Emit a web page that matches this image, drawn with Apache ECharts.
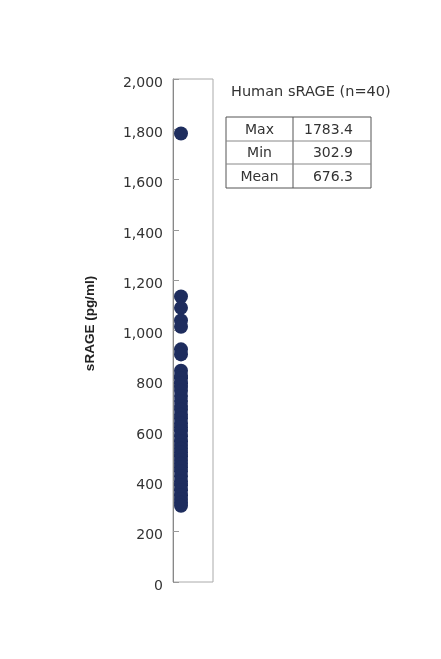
<!DOCTYPE html>
<html>
<head>
<meta charset="utf-8">
<script src="https://cdn.jsdelivr.net/npm/echarts@6/dist/echarts.min.js"></script>
<style>html,body{margin:0;padding:0;background:#fff}#c{width:441px;height:659px}</style>
</head>
<body>
<div id="c"></div>
<script>
// Data
const sragValues = [1783.4, 1135, 1090, 1040, 1015, 925, 905, 840, 820,
  810, 790, 775, 760, 740, 720, 700, 685, 665, 650, 630, 615, 600, 580, 560,
  545, 530, 515, 500, 485, 470, 455, 440, 420, 400, 385, 365, 345, 330, 315, 302.9];
const yTicks = [0, 200, 400, 600, 800, 1000, 1200, 1400, 1600, 1800, 2000];
const tableTitle = 'Human sRAGE (n=40)';
const statLabels = ['Max', 'Min', 'Mean'];
const statValues = ['1783.4', '302.9', '676.3'];
const yAxisName = 'sRAGE (pg/ml)';
const dotX = 0.2;

const chart = echarts.init(document.getElementById('c'));
const FONT = '"DejaVu Sans", "Liberation Sans", sans-serif';
const NFONT = '"Liberation Sans", Arial, sans-serif';

// Table graphic
const tL = 226, tR = 371, tDiv = 293, rowTops = [117, 141, 164, 188];
const g = [];
g.push({type:'text', left: 231, top: 85, style:{text: tableTitle, font: '14.5px ' + FONT, fill:'#333'}});
g.push({type:'rect', shape:{x:tL, y:rowTops[0], width:tR-tL, height:rowTops[3]-rowTops[0]}, style:{fill:'none', stroke:'#555', lineWidth:1}});
g.push({type:'line', shape:{x1:tDiv, y1:rowTops[0], x2:tDiv, y2:rowTops[3]}, style:{stroke:'#555', lineWidth:1}});
for (let i = 1; i < 3; i++) {
  g.push({type:'line', shape:{x1:tL, y1:rowTops[i], x2:tR, y2:rowTops[i]}, style:{stroke:'#888', lineWidth:1}});
}
statLabels.forEach((lab, i) => {
  const cy = (rowTops[i] + rowTops[i+1]) / 2 + 1;
  g.push({type:'text', x:(tL+tDiv)/2, y:cy, style:{text:lab, font:'14px ' + FONT, fill:'#333', align:'center', verticalAlign:'middle'}});
  g.push({type:'text', x:353, y:cy, style:{text:statValues[i], font:'14px ' + FONT, fill:'#333', align:'right', verticalAlign:'middle'}});
});

chart.setOption({
  animation: false,
  grid: {left: 173, right: 228, top: 79, bottom: 77, show: true, borderColor: '#aaa', borderWidth: 1},
  xAxis: {type:'value', min:0, max:1, show:false},
  yAxis: {
    type:'value', min: yTicks[0], max: yTicks[yTicks.length-1], interval: 200,
    name: yAxisName, nameLocation:'middle', nameGap: 76,
    nameTextStyle: {fontFamily: NFONT, fontSize: 13.5, fontWeight:'bold', color:'#222', padding:[0,0,0,14]},
    axisLine: {show:true, lineStyle:{color:'#888'}},
    axisTick: {show:true, inside:true, length:6, lineStyle:{color:'#999'}},
    splitLine: {show:false},
    axisLabel: {margin: 10, fontFamily: FONT, fontSize: 14, color:'#333',
      verticalAlign: 'top', lineHeight: 8,
      formatter: v => v.toLocaleString('en-US')}
  },
  graphic: g,
  series: [{
    type:'scatter', symbol:'circle', symbolSize: 14,
    itemStyle: {color:'#1e2d5e', opacity: 1},
    data: sragValues.map(v => [dotX, v])
  }]
});
</script>
</body>
</html>
